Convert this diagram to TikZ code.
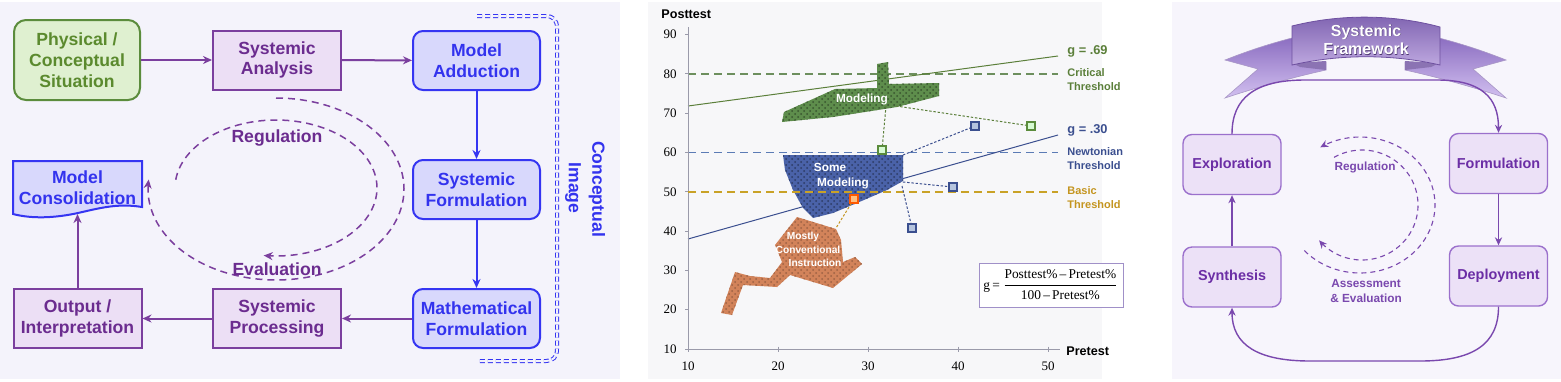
\documentclass[tikz,border=0pt]{standalone}
\usepackage{fontspec}
\usepackage{amsmath}
\setmainfont{Liberation Sans}
\newfontfamily\tms{Liberation Serif}
\usetikzlibrary{arrows.meta,patterns}
\definecolor{p1bg}{HTML}{F4F3FB}
\definecolor{p2bg}{HTML}{F7F7F9}
\definecolor{p3bg}{HTML}{F7F5FC}
\definecolor{gline}{HTML}{5B8C3C}
\definecolor{gfill}{HTML}{DFF0D0}
\definecolor{gtext}{HTML}{5B8A2E}
\definecolor{pline}{HTML}{7B3F9E}
\definecolor{pfill}{HTML}{ECDFF5}
\definecolor{ptext}{HTML}{6B2C8F}
\definecolor{bline}{HTML}{3535F2}
\definecolor{bfill}{HTML}{D8D8FC}
\definecolor{btext}{HTML}{3333EE}
\definecolor{axisc}{HTML}{9A9AAA}
\definecolor{critc}{HTML}{6D8F5E}
\definecolor{newtc}{HTML}{5B7BB5}
\definecolor{basicc}{HTML}{C9A227}
\definecolor{glab}{HTML}{5B7F3A}
\definecolor{blab}{HTML}{3B4F8F}
\definecolor{olab}{HTML}{C49520}
\definecolor{modg}{HTML}{5E8D4C}
\definecolor{modb}{HTML}{4A62A8}
\definecolor{modo}{HTML}{D2835A}
\definecolor{fbox}{HTML}{A090C8}
\definecolor{q3line}{HTML}{9B70CC}
\definecolor{q3fill}{HTML}{ECE1F7}
\definecolor{q3text}{HTML}{6B2EA5}
\definecolor{q3arr}{HTML}{7A48AE}
\definecolor{ribtop}{HTML}{8A6CC0}
\definecolor{ribbot}{HTML}{D2C0F0}
\definecolor{bantop}{HTML}{7E62B0}
\definecolor{banbot}{HTML}{BDA7DF}
\definecolor{banline}{HTML}{6E50A0}
\tikzset{
  boxfont/.style={font=\bfseries\fontsize{8.8}{10.4}\selectfont},
  greenbox/.style={boxfont, rounded corners=6pt, draw=gline, fill=gfill, text=gtext, line width=1pt, align=center, minimum width=63pt, minimum height=40pt, inner sep=0pt},
  purplebox/.style={boxfont, draw=pline, fill=pfill, text=ptext, line width=1pt, align=center, minimum width=64pt, minimum height=29.5pt, inner sep=0pt},
  bluebox/.style={boxfont, rounded corners=5pt, draw=bline, fill=bfill, text=btext, line width=1pt, align=center, minimum width=63.5pt, minimum height=29.5pt, inner sep=0pt},
  parr/.style={draw=pline, line width=1pt, -{Stealth[length=4.5pt,width=4pt]}},
  barr/.style={draw=bline, line width=1pt, -{Stealth[length=4.5pt,width=4pt]}},
  dasharc/.style={draw=pline, line width=0.75pt, dash pattern=on 3.5pt off 2.5pt, -{Stealth[length=4.5pt,width=4pt]}},
  axisline/.style={draw=axisc, line width=0.5pt},
  ticklab/.style={font=\tms\fontsize{6.5}{7}\selectfont, inner sep=0pt},
  thresh/.style={line width=0.7pt, dash pattern=on 4pt off 2.5pt},
  shapelab/.style={text=white, font=\bfseries\fontsize{5.9}{7}\selectfont, inner sep=0pt},
  sq/.style={rectangle, minimum size=4pt, inner sep=0pt, line width=0.6pt},
  dotc/.style={line width=0.5pt, dash pattern=on 1.2pt off 0.9pt},
  rlab/.style={anchor=west, align=left, inner sep=0pt, font=\bfseries\fontsize{5.5}{7}\selectfont},
  texture/.style={pattern=crosshatch dots, pattern color=#1},
  q3box/.style={font=\bfseries\fontsize{7.2}{8.5}\selectfont, rounded corners=4.5pt, draw=q3line, fill=q3fill, text=q3text, line width=0.7pt, minimum width=49pt, minimum height=30pt, inner sep=0pt},
  q3a/.style={draw=q3arr, line width=0.7pt, -{Stealth[length=4pt,width=3.6pt]}},
  q3dash/.style={draw=q3arr, line width=0.55pt, dash pattern=on 2.5pt off 2pt, -{Stealth[length=4pt,width=3.6pt]}},
  q3lab/.style={text=q3arr, font=\bfseries\fontsize{5.9}{7}\selectfont, align=center, inner sep=0pt}
}
\begin{document}
\begin{tikzpicture}[x=0.5pt,y=-0.5pt]
\useasboundingbox (0,0) rectangle (1561,381);
\fill[white] (0,0) rectangle (1561,381);
\fill[p1bg] (0,2) rectangle (620,379);
\fill[p2bg] (648,2) rectangle (1102,379);
\fill[p3bg] (1172,2) rectangle (1561,379);

% ================= PANEL 1 =================
\node[greenbox] (phys) at (77,60) {Physical /\\Conceptual\\Situation};
\node[purplebox] (ana) at (277,60) {Systemic\\Analysis};
\node[bluebox] (add) at (476.5,60.5) {Model\\Adduction};
\node[bluebox] (sform) at (476.5,189.5) {Systemic\\Formulation};
\node[bluebox] (mform) at (476.5,318.5) {Mathematical\\Formulation};
\node[purplebox] (proc) at (277,318.5) {Systemic\\Processing};
\node[purplebox] (out) at (77.5,318.5) {Output /\\Interpretation};
\draw[draw=bline, fill=bfill, line width=1pt] (13,161) -- (142,161) -- (142,207)
  .. controls (118,203) and (100,208) .. (78,213)
  .. controls (55,218) and (32,219) .. (13,214) -- cycle;
\node[boxfont, text=btext, align=center, inner sep=0pt] (cons) at (77.5,188) {Model\\Consolidation};
\coordinate (consb) at (77.5,214);

\draw[parr] (phys) -- (ana);
\draw[parr] (ana) -- (add);
\draw[barr] (add) -- (sform);
\draw[barr] (sform) -- (mform);
\draw[parr] (mform) -- (proc);
\draw[parr] (proc) -- (out);
\draw[parr] (out) -- (consb);

% dashed loops
\draw[dasharc] plot[domain=90:-186, samples=90, smooth] ({276+128*cos(\x)},{189-91*sin(\x)});
\draw[dasharc] plot[domain=173:-97, samples=90, smooth] ({276+101*cos(\x)},{188-68*sin(\x)});
\node[boxfont, text=ptext, inner sep=0pt] (reg1) at (277,138) {Regulation};
\node[boxfont, text=ptext, inner sep=0pt] (eva1) at (277,269) {Evaluation};

% conceptual image bracket
\draw[draw=bline, line width=0.5pt, double=p1bg, double distance=1pt, dash pattern=on 2.5pt off 1.5pt]
  (477,16) -- (546,16) .. controls (553,16) and (557,20) .. (557,28) -- (557,349)
  .. controls (557,357) and (553,361) .. (546,361) -- (477,361);
\node[boxfont, text=btext, rotate=-90, inner sep=0pt] (ci1) at (597,189) {Conceptual};
\node[boxfont, text=btext, rotate=-90, inner sep=0pt] (ci2) at (573,188) {Image};

% ================= PANEL 2 =================
\draw[thresh, draw=critc] (688,74) -- (1058,74);
\draw[thresh, draw=newtc] (688,152.5) -- (1058,152.5);
\draw[draw=glab, line width=0.5pt] (688,106) -- (1058,56);
\draw[draw=blab, line width=0.5pt] (688,239) -- (1058,135);
\draw[axisline] (688,27) -- (688,349) -- (1060,349);
\foreach \v in {10,20,...,90}{
  \pgfmathsetmacro\yy{349-(\v-10)*3.93}
  \draw[axisline] (685,\yy) -- (688,\yy);
  \node[ticklab, anchor=east] (yt\v) at (677,\yy) {\v};
}
\foreach \v/\xx in {10/688,20/778,30/868,40/958,50/1048}{
  \draw[axisline] (\xx,346.5) -- (\xx,351.5);
  \node[ticklab] (xt\v) at (\xx,366) {\v};
}
\node[anchor=west, inner sep=0pt, font=\bfseries\fontsize{6.3}{7}\selectfont] (post) at (661,14) {Posttest};
\node[anchor=west, inner sep=0pt, font=\bfseries\fontsize{6.3}{7}\selectfont] (pre) at (1066,351) {Pretest};

\fill[modg] (782,122) -- (784,112) -- (835,89) -- (877,88) -- (877,64) -- (888,62) -- (889,84)
  -- (939,83) -- (939,96) -- (897,107) -- (833,117) -- cycle;
\fill[texture=modg!60!black] (782,122) -- (784,112) -- (835,89) -- (877,88) -- (877,64) -- (888,62) -- (889,84)
  -- (939,83) -- (939,96) -- (897,107) -- (833,117) -- cycle;
\fill[modb] (783,155) -- (903,155) -- (903,181) -- (887,190) -- (857,203) -- (833,213)
  -- (813,218) -- (803,208) -- (793,190) -- (785,170) -- cycle;
\fill[texture=modb!60!black] (783,155) -- (903,155) -- (903,181) -- (887,190) -- (857,203) -- (833,213)
  -- (813,218) -- (803,208) -- (793,190) -- (785,170) -- cycle;
\fill[modo] (797,217) -- (836,229) -- (841,240) -- (843,262) -- (855,257) -- (862,264)
  -- (833,288) -- (790,275) -- (777,287) -- (743,285) -- (732,315) -- (721,313)
  -- (735,272) -- (750,276) -- (770,278) -- (782,262) -- (775,245) -- cycle;
\fill[texture=modo!75!black] (797,217) -- (836,229) -- (841,240) -- (843,262) -- (855,257) -- (862,264)
  -- (833,288) -- (790,275) -- (777,287) -- (743,285) -- (732,315) -- (721,313)
  -- (735,272) -- (750,276) -- (770,278) -- (782,262) -- (775,245) -- cycle;
\draw[thresh, draw=basicc] (688,192) -- (1058,192);

\node[shapelab] (lmod) at (862,99) {Modeling};
\node[shapelab] (lsome) at (830,167) {Some};
\node[shapelab] (lsome2) at (843,183) {Modeling};
\node[shapelab, font=\bfseries\fontsize{5.1}{6}\selectfont] (lmost1) at (803,237) {Mostly};
\node[shapelab, font=\bfseries\fontsize{5.1}{6}\selectfont] (lmost2) at (808,250) {Conventional};
\node[shapelab, font=\bfseries\fontsize{5.1}{6}\selectfont] (lmost3) at (815,263) {Instruction};

\node[sq, draw=gline, fill=gfill!70!green!40] (g1) at (882,150) {};
\node[sq, draw=gline, fill=gfill!70!green!40] (g2) at (1031,126) {};
\node[sq, draw=blab, fill=newtc!45] (b1) at (975,126) {};
\node[sq, draw=blab, fill=newtc!45] (b2) at (953,187) {};
\node[sq, draw=blab, fill=newtc!45] (b3) at (912,228) {};
\node[sq, draw=orange!70!red, fill=orange!50] (o1) at (854,199) {};
\coordinate (mA) at (886,106);
\coordinate (mB) at (896,106);
\coordinate (sA) at (903,155);
\coordinate (sB) at (903,182);
\coordinate (sC) at (902,186);
\coordinate (oA) at (836,228);
\draw[dotc, draw=glab] (mA) -- (g1);
\draw[dotc, draw=glab] (mB) -- (g2);
\draw[dotc, draw=blab] (sA) -- (b1);
\draw[dotc, draw=blab] (sB) -- (b2);
\draw[dotc, draw=blab] (sC) -- (b3);
\draw[dotc, draw=olab] (o1) -- (oA);

\node[rlab, text=glab, font=\bfseries\fontsize{6.4}{7}\selectfont] (g69) at (1067,51) {g = .69};
\node[rlab, text=glab] (crit) at (1067,80) {Critical\\Threshold};
\node[rlab, text=blab, font=\bfseries\fontsize{6.4}{7}\selectfont] (g30) at (1067,130) {g = .30};
\node[rlab, text=blab] (newt) at (1067,159) {Newtonian\\Threshold};
\node[rlab, text=olab] (basic) at (1067,198) {Basic\\Threshold};

\node[draw=fbox, fill=white, line width=0.5pt, minimum width=72pt, minimum height=22pt, inner sep=0pt,
  font=\tms\fontsize{6.7}{8}\selectfont] (formula) at (1051,285)
  {g\,=\,$\dfrac{\text{Posttest\%\,–\,Pretest\%}}{\text{100\,–\,Pretest\%}}$};

% ================= PANEL 3 =================
\shade[top color=ribtop, bottom color=ribbot, draw=banline!60, line width=0.3pt] (1225,60) .. controls (1250,50) and (1275,42) .. (1300,36)
  -- (1300,64) -- (1326,62) -- (1326,70) .. controls (1290,78) and (1255,88) .. (1225,98)
  -- (1258,69) -- cycle;
\shade[top color=ribtop, bottom color=ribbot, draw=banline!60, line width=0.3pt] (1506,60) .. controls (1481,50) and (1456,42) .. (1431,36)
  -- (1431,64) -- (1405,62) -- (1405,70) .. controls (1441,78) and (1476,88) .. (1506,98)
  -- (1473,69) -- cycle;
\fill[banline!80] (1292,63) -- (1326,61) -- (1326,70) -- (1300,67) -- cycle;
\fill[banline!80] (1439,63) -- (1405,61) -- (1405,70) -- (1431,67) -- cycle;
\shade[top color=bantop, bottom color=banbot, draw=banline, line width=0.4pt]
  (1292,26) .. controls (1340,14) and (1392,14) .. (1440,27) -- (1440,65)
  .. controls (1392,54) and (1340,54) .. (1292,65) -- cycle;
\node[text=banline!70!black, font=\bfseries\fontsize{8}{9}\selectfont, inner sep=0pt] (fs1) at (1366.6,32.6) {Systemic};
\node[text=white, font=\bfseries\fontsize{8}{9}\selectfont, inner sep=0pt] (fw1) at (1366,32) {Systemic};
\node[text=banline!70!black, font=\bfseries\fontsize{8}{9}\selectfont, inner sep=0pt] (fs2) at (1366.6,49.6) {Framework};
\node[text=white, font=\bfseries\fontsize{8}{9}\selectfont, inner sep=0pt] (fw2) at (1366,49) {Framework};

\node[q3box] (exp) at (1232,164.5) {Exploration};
\node[q3box] (form) at (1498.5,163.5) {Formulation};
\node[q3box] (syn) at (1232,277) {Synthesis};
\node[q3box] (dep) at (1498.5,276) {Deployment};

\draw[q3a] (syn) -- (exp);
\draw[q3a] (form) -- (dep);
\draw[q3a] (exp.north) .. controls (1232,98) and (1255,80) .. (1305,80) -- (1437,80)
  .. controls (1482,80) and (1498.5,98) .. (form.north);
\draw[q3a] (dep.south) .. controls (1498.5,345) and (1472,361) .. (1420,361) -- (1310,361)
  .. controls (1258,361) and (1232,345) .. (syn.south);

\draw[q3dash] plot[domain=222:482, samples=90, smooth] ({1360+75*cos(\x)},{205-68*sin(\x)});
\draw[q3dash] plot[domain=120:-140, samples=90, smooth] ({1362+56*cos(\x)},{205-55*sin(\x)});
\node[q3lab] (reg3) at (1365,167) {Regulation};
\node[q3lab, font=\bfseries\fontsize{5.9}{7.2}\selectfont] (ae3) at (1366,291) {Assessment\\\& Evaluation};
\end{tikzpicture}
\end{document}
